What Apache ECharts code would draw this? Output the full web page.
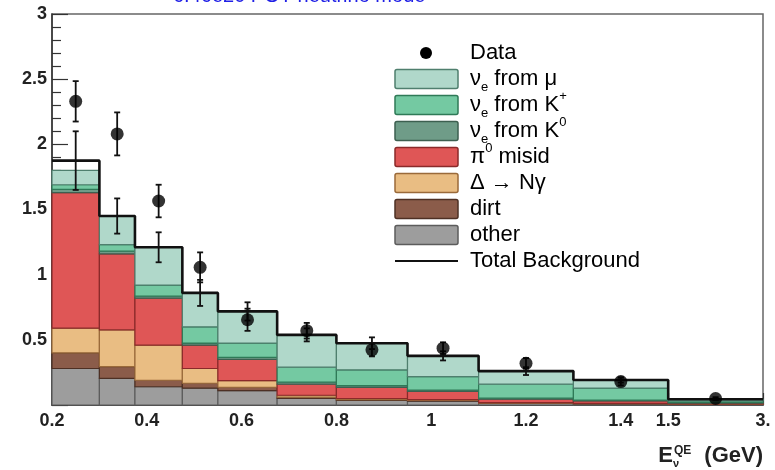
<!DOCTYPE html>
<html><head><meta charset="utf-8">
<script src="https://cdn.jsdelivr.net/npm/echarts@6/dist/echarts.min.js"></script>
<style>html,body{margin:0;padding:0;background:#fff}#c{width:775px;height:470px}</style>
</head><body><div id="c"></div>
<script>
// ---- data (real energies in GeV) ----
const binEdges = [0.2, 0.3, 0.375, 0.475, 0.55, 0.675, 0.8, 0.95, 1.1, 1.3, 1.5, 3.0];
const otherBg  = [0.28, 0.205, 0.14, 0.13, 0.11, 0.05, 0.035, 0.03, 0.012, 0.008, 0.005];
const dirtBg   = [0.12, 0.09, 0.05, 0.037, 0.026, 0.01, 0.007, 0.006, 0.003, 0.002, 0.002];
const deltaBg  = [0.19, 0.282, 0.27, 0.113, 0.051, 0.015, 0.008, 0.006, 0.003, 0.003, 0.002];
const pi0Bg    = [1.04, 0.583, 0.36, 0.18, 0.163, 0.085, 0.085, 0.063, 0.027, 0.019, 0.006];
const k0Bg     = [0.025, 0.02, 0.015, 0.015, 0.015, 0.015, 0.013, 0.01, 0.007, 0.006, 0.004];
const kplusBg  = [0.035, 0.05, 0.085, 0.125, 0.11, 0.115, 0.122, 0.103, 0.108, 0.092, 0.012];
const muBg     = [0.11, 0.22, 0.29, 0.26, 0.243, 0.248, 0.204, 0.159, 0.10, 0.062, 0.013];
const totalBg  = [1.875, 1.45, 1.21, 0.86, 0.718, 0.538, 0.474, 0.377, 0.26, 0.192, 0.044];
const totalErr = [0.225, 0.135, 0.115, 0.1, 0.07, 0.05, 0.045, 0.035, 0.03, 0.02, 0.005];
const dataVals = [2.33, 2.08, 1.565, 1.056, 0.654, 0.57, 0.423, 0.436, 0.32, 0.18, 0.05];
const dataErr  = [0.155, 0.165, 0.125, 0.115, 0.085, 0.06, 0.05, 0.045, 0.04, 0.03, 0.01];
const xTickValues = [0.2, 0.4, 0.6, 0.8, 1.0, 1.2, 1.4, 1.5, 3.0];
const xTickLabels = ['0.2', '0.4', '0.6', '0.8', '1', '1.2', '1.4', '1.5', '3.'];
const xMinorTicks = [0.25, 0.3, 0.35, 0.45, 0.5, 0.55, 0.65, 0.7, 0.75, 0.85, 0.9, 0.95, 1.05, 1.1, 1.15, 1.25, 1.3, 1.35, 1.45];
const legendLabels = ['Data', 'ν{sub|e} from μ', 'ν{sub|e} from K{sup|+}', 'ν{sub|e} from K{sup|0}', 'π{sup|0} misid', 'Δ → Nγ', 'dirt', 'other', 'Total Background'];
const title = '6.46e20 POT neutrino mode';

// ---- axis transform: linear up to 1.5 GeV, last bin compressed ----
function disp(E) { return E <= 1.5 ? E : 1.5 + (E - 1.5) * (0.2 / 1.5); }
const dEdges = binEdges.map(disp);
const dCenters = dEdges.slice(0, -1).map((e, i) => (e + dEdges[i + 1]) / 2);
const dTicks = xTickValues.map(disp);

const comps = [
  {name: 'other', vals: otherBg, fill: '#9d9d9d', stroke: '#5c5c5c'},
  {name: 'dirt', vals: dirtBg, fill: '#8b5c4a', stroke: '#4e3024'},
  {name: 'delta', vals: deltaBg, fill: '#e9bd83', stroke: '#9a6a3a'},
  {name: 'pi0', vals: pi0Bg, fill: '#df5656', stroke: '#8a2a2a'},
  {name: 'k0', vals: k0Bg, fill: '#6f9c88', stroke: '#3d5f50'},
  {name: 'kplus', vals: kplusBg, fill: '#74c9a2', stroke: '#2f7a57'},
  {name: 'mu', vals: muBg, fill: '#b0d8ca', stroke: '#4f7f6e'}
];

const series = [];
let below = new Array(binEdges.length - 1).fill(0);
comps.forEach((c, k) => {
  const data = c.vals.map((v, i) => [dEdges[i], dEdges[i + 1], below[i], below[i] + v]);
  below = below.map((b, i) => b + c.vals[i]);
  series.push({
    type: 'custom', name: c.name, data, z: 2 + k, silent: true,
    encode: {x: [0, 1], y: [2, 3]},
    renderItem(params, api) {
      const p0 = api.coord([api.value(0), api.value(3)]);
      const p1 = api.coord([api.value(1), api.value(2)]);
      return {type: 'rect', shape: {x: p0[0], y: p0[1], width: p1[0] - p0[0], height: p1[1] - p0[1]},
        style: {fill: c.fill, stroke: c.stroke, lineWidth: 1.2}};
    }
  });
});

// total background step line
const totalLine = totalBg.map((v, i) => [dEdges[i], v]);
totalLine.push([dEdges[dEdges.length - 1], totalBg[totalBg.length - 1]]);
series.push({type: 'line', name: 'Total Background', step: 'end', data: totalLine, symbol: 'none',
  lineStyle: {color: '#111', width: 2.6}, z: 20, silent: true});

function errSeries(name, vals, errs, z) {
  return {
    type: 'custom', name, z, silent: true,
    data: vals.map((v, i) => [dCenters[i], v - errs[i], v + errs[i]]),
    encode: {x: 0, y: [1, 2]},
    renderItem(params, api) {
      const a = api.coord([api.value(0), api.value(1)]);
      const b = api.coord([api.value(0), api.value(2)]);
      const st = {stroke: '#111', lineWidth: 1.8};
      return {type: 'group', children: [
        {type: 'line', shape: {x1: a[0], y1: a[1], x2: b[0], y2: b[1]}, style: st},
        {type: 'line', shape: {x1: a[0] - 3, y1: a[1], x2: a[0] + 3, y2: a[1]}, style: st},
        {type: 'line', shape: {x1: b[0] - 3, y1: b[1], x2: b[0] + 3, y2: b[1]}, style: st}
      ]};
    }
  };
}
series.push(errSeries('bkgErr', totalBg, totalErr, 21));
series.push(errSeries('dataErr', dataVals, dataErr, 22));
series.push({type: 'scatter', name: 'Data', data: dataVals.map((v, i) => [dCenters[i], v]),
  symbol: 'circle', symbolSize: 13, itemStyle: {color: '#000'}, z: 23, silent: true});

// ---- legend drawn as graphic ----
const legRich = {
  t: {fontSize: 22, fontFamily: 'Liberation Sans, Arial', color: '#2a2a2a', lineHeight: 30},
  sub: {fontSize: 13, fontFamily: 'Liberation Sans, Arial', color: '#2a2a2a', lineHeight: 13, verticalAlign: 'bottom'},
  sup: {fontSize: 13, fontFamily: 'Liberation Sans, Arial', color: '#2a2a2a', lineHeight: 13, verticalAlign: 'top'}
};
const legendOrder = ['mu', 'kplus', 'k0', 'pi0', 'delta', 'dirt', 'other'];
const graphic = [];
const rowY = i => 53 + 26 * i;
graphic.push({type: 'circle', shape: {cx: 426, cy: rowY(0), r: 6}, style: {fill: '#000'}, silent: true});
legendOrder.forEach((n, j) => {
  const c = comps.find(cc => cc.name === n);
  graphic.push({type: 'rect', shape: {x: 395, y: rowY(j + 1) - 9.5, width: 63, height: 19, r: 2},
    style: {fill: c.fill, stroke: c.stroke, lineWidth: 1.5}, silent: true});
});
graphic.push({type: 'line', shape: {x1: 395, y1: rowY(8), x2: 458, y2: rowY(8)}, style: {stroke: '#111', lineWidth: 2}, silent: true});
legendLabels.forEach((lab, i) => {
  const txt = lab.split(/(\{(?:sub|sup)\|[^}]*\})/).filter(s => s).map(s => s.startsWith('{') ? s : '{t|' + s + '}').join('');
  graphic.push({type: 'text', x: 470, y: rowY(i), silent: true,
    style: {text: txt, rich: legRich, verticalAlign: 'middle', align: 'left', fontSize: 22}});
});
// subscript nu of the axis title
graphic.push({type: 'text', x: 673, y: 469, silent: true,
  style: {text: 'ν', fontSize: 11, fontWeight: 'bold', fontFamily: 'Liberation Sans, Arial', fill: '#222', verticalAlign: 'bottom'}});

const chart = echarts.init(document.getElementById('c'), null, {renderer: 'canvas'});
chart.setOption({
  backgroundColor: '#fff',
  animation: false,
  title: {text: title, left: 173, top: -14, padding: 0,
    textStyle: {color: '#2020e6', fontSize: 20, fontWeight: 'normal', fontFamily: 'Liberation Sans, Arial'}},
  grid: {left: 52, right: 12, top: 14, bottom: 65, show: true, borderColor: '#666', borderWidth: 1.5, backgroundColor: 'transparent'},
  xAxis: [{
    type: 'value', min: 0.2, max: 1.7,
    axisLine: {lineStyle: {color: '#333', width: 1.5}},
    axisTick: {inside: true, length: 12, customValues: dTicks, lineStyle: {color: '#333', width: 1.2}},
    axisLabel: {customValues: dTicks, margin: 7, color: '#222', fontSize: 18, fontWeight: 'bold', fontFamily: 'Liberation Sans, Arial',
      formatter: v => { const i = dTicks.findIndex(t => Math.abs(t - v) < 1e-6); return i >= 0 ? xTickLabels[i] : ''; }},
    splitLine: {show: false},
    name: '{e|E}{sup|QE}{u| (GeV)}', nameLocation: 'end', nameGap: 0,
    nameTextStyle: {align: 'right', verticalAlign: 'top', padding: [40, 0, 0, 0],
      rich: {
        e: {fontSize: 22, fontWeight: 'bold', fontFamily: 'Liberation Sans, Arial', color: '#222'},
        sup: {fontSize: 12, fontWeight: 'bold', fontFamily: 'Liberation Sans, Arial', color: '#222', verticalAlign: 'top', lineHeight: 12, padding: [0, 7, 0, 1]},
        u: {fontSize: 22, fontWeight: 'bold', fontFamily: 'Liberation Sans, Arial', color: '#222'}
      }}
  }, {
    type: 'value', min: 0.2, max: 1.7, position: 'bottom', gridIndex: 0,
    axisLine: {show: false}, axisLabel: {show: false}, splitLine: {show: false},
    axisTick: {inside: true, length: 6, customValues: xMinorTicks, lineStyle: {color: '#333', width: 1.2}}
  }],
  yAxis: {
    type: 'value', min: 0, max: 3, interval: 0.5,
    axisLine: {show: true, lineStyle: {color: '#333', width: 1.5}},
    axisTick: {inside: true, length: 16, lineStyle: {color: '#333', width: 1.2}},
    minorTick: {show: true, splitNumber: 5, length: 9, lineStyle: {color: '#333', width: 1.2}},
    axisLabel: {showMinLabel: false, margin: 5, color: '#222', fontSize: 18, fontWeight: 'bold', fontFamily: 'Liberation Sans, Arial'},
    splitLine: {show: false}
  },
  graphic,
  series
});
</script></body></html>
